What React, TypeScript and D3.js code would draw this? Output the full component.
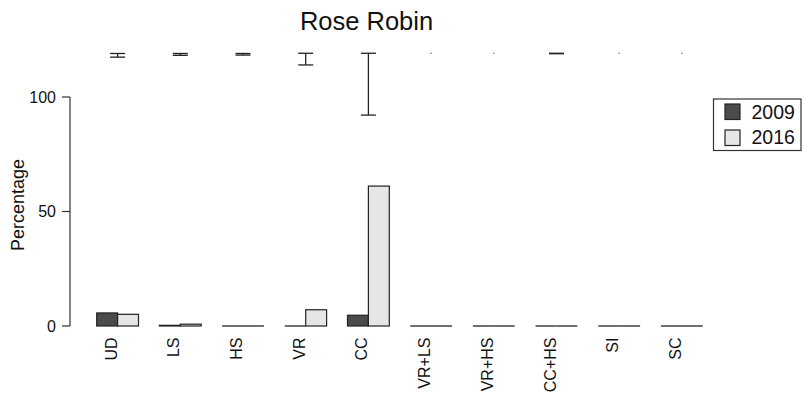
import React from "react";
import * as d3 from "d3";

const categories = ["UD", "LS", "HS", "VR", "CC", "VR+LS", "VR+HS", "CC+HS", "SI", "SC"];
const seriesNames = ["2009", "2016"];
const values2009 = [5.7, 0.3, 0.2, 0, 4.7, 0, 0, 0, 0, 0];
const values2016 = [5.1, 0.8, 0.2, 7.1, 61.1, 0, 0, 0, 0, 0];
const errLow = [117.4, 118.2, 118.3, 114.0, 92.1, 119.1, 119.1, 118.9, 119.1, 119.1];
const errHigh = [119.0, 119.0, 119.0, 119.1, 119.1, 119.1, 119.1, 119.1, 119.1, 119.1];
const yTicks = [0, 50, 100];
const colors = ["#4b4b4b", "#e6e6e6"];

export default function App() {
  const W = 804, H = 398;
  const unit = 20.9;
  const x0 = 75.8;
  const y = d3.scaleLinear().domain([0, 100]).range([326, 97]);
  const groupX = d3.scaleBand<string>().domain(categories).range([x0 + unit, x0 + unit * 30]).paddingInner(1 / 3).paddingOuter(0);
  const inner = d3.scaleBand<string>().domain(seriesNames).range([0, groupX.bandwidth()]);
  const series = [values2009, values2016];
  const font = "'Liberation Sans', Arial, sans-serif";
  const capW = 15;
  return (
    <svg width={W} height={H} style={{ position: "absolute", left: 0, top: 0, background: "#fff" }} fontFamily={font}>
      <text x={366.5} y={30} fontSize={25.5} textAnchor="middle" fill="#111">Rose Robin</text>
      {/* y axis */}
      <line x1={70} x2={70} y1={y(100)} y2={y(0)} stroke="#333" strokeWidth={1.2} />
      {yTicks.map(t => (
        <g key={t}>
          <line x1={62} x2={70} y1={y(t)} y2={y(t)} stroke="#333" strokeWidth={1.2} />
          <text x={56} y={y(t)} dy="0.35em" fontSize={16} textAnchor="end" fill="#111">{t}</text>
        </g>
      ))}
      <text transform={`translate(24,${205}) rotate(-90)`} fontSize={18} textAnchor="middle" fill="#111">Percentage</text>
      {/* bars */}
      {categories.map((c, i) => (
        <g key={c}>
          {series.map((s, k) => {
            const bx = (groupX(c) as number) + (inner(seriesNames[k]) as number);
            const top = y(s[i]);
            const h = y(0) - top;
            if (h < 0.5) {
              return <line key={k} x1={bx} x2={bx + inner.bandwidth()} y1={y(0)} y2={y(0)} stroke="#222" strokeWidth={1.3} />;
            }
            return (
              <rect key={k} x={bx} y={top} width={inner.bandwidth()} height={h}
                fill={colors[k]} stroke="#222" strokeWidth={1.2} />
            );
          })}
          <text transform={`translate(${(groupX(c) as number) + groupX.bandwidth() / 2 - 1},337.5) rotate(-90)`}
            fontSize={16} textAnchor="end" fill="#111">{c}</text>
        </g>
      ))}
      {/* error bars */}
      {categories.map((c, i) => {
        const cx = (groupX(c) as number) + groupX.bandwidth() / 2;
        const y1 = y(errHigh[i]), y2 = y(errLow[i]);
        if (errHigh[i] - errLow[i] <= 0) {
          return <circle key={c} cx={cx} cy={y1} r={0.8} fill="#777" />;
        }
        return (
          <g key={c} stroke="#222" strokeWidth={1.3}>
            <line x1={cx} x2={cx} y1={y1} y2={y2} />
            <line x1={cx - capW / 2} x2={cx + capW / 2} y1={y1} y2={y1} />
            <line x1={cx - capW / 2} x2={cx + capW / 2} y1={y2} y2={y2} />
          </g>
        );
      })}
      {/* legend */}
      <rect x={713.5} y={99} width={87.5} height={51.5} fill="#fff" stroke="#333" strokeWidth={1.2} />
      {seriesNames.map((s, k) => (
        <g key={s}>
          <rect x={725} y={104 + k * 26} width={15} height={15.5} fill={colors[k]} stroke="#222" strokeWidth={1.2} />
          <text x={751.5} y={119 + k * 25} fontSize={19.5} fill="#111">{s}</text>
        </g>
      ))}
    </svg>
  );
}
